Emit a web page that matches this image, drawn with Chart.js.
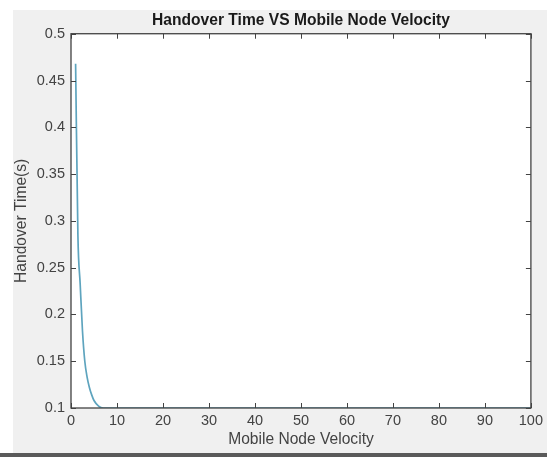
<!DOCTYPE html>
<html>
<head>
<meta charset="utf-8">
<script src="https://cdn.jsdelivr.net/npm/chart.js@4"></script>
<style>
  html, body { margin: 0; padding: 0; background: #ffffff; }
  #wrap { width: 547px; height: 457px; position: relative; }
</style>
</head>
<body>
<div id="wrap"><canvas id="handoverChart"></canvas></div>
<script>
// values
const velocity = [1, 1.5, 2, 2.5, 3, 3.5, 4, 4.5, 5, 6, 7, 8, 10, 20, 30, 40, 50, 60, 70, 80, 90, 100];
const handoverTime = [0.468, 0.285, 0.232, 0.182, 0.15, 0.133, 0.122, 0.114, 0.108, 0.102, 0.1, 0.1, 0.1, 0.1, 0.1, 0.1, 0.1, 0.1, 0.1, 0.1, 0.1, 0.1];
const xTickValues = [0, 10, 20, 30, 40, 50, 60, 70, 80, 90, 100];
const yTickValues = [0.1, 0.15, 0.2, 0.25, 0.3, 0.35, 0.4, 0.45, 0.5];

const axisColor = '#434343';
const fontFamily = '"Liberation Sans", Arial, sans-serif';

// figure background, white axes box, ticks pointing inward like matlab
const matlabFrame = {
    id: 'matlabFrame',
    beforeDraw(chart) {
        const ctx = chart.ctx;
        const a = chart.chartArea;
        ctx.save();
        ctx.fillStyle = '#ffffff';
        ctx.fillRect(0, 0, chart.width, chart.height);
        ctx.fillStyle = '#f0f0f0';
        ctx.fillRect(13, 10, chart.width - 13, 443);
        ctx.fillStyle = '#5a5a5a';
        ctx.fillRect(0, 453, chart.width, 4);
        ctx.fillStyle = '#ffffff';
        ctx.fillRect(a.left, a.top, a.right - a.left, a.bottom - a.top);
        ctx.restore();
    },
    afterDatasetsDraw(chart) {
        const ctx = chart.ctx;
        const a = chart.chartArea;
        const xs = chart.scales.x;
        const ys = chart.scales.y;
        const len = 5;
        ctx.save();
        ctx.strokeStyle = axisColor;
        ctx.lineWidth = 1;
        ctx.beginPath();
        xTickValues.forEach(function (v) {
            const px = Math.round(xs.getPixelForValue(v)) + 0.5;
            ctx.moveTo(px, a.bottom);
            ctx.lineTo(px, a.bottom - len);
            ctx.moveTo(px, a.top);
            ctx.lineTo(px, a.top + len);
        });
        yTickValues.forEach(function (v) {
            const py = Math.round(ys.getPixelForValue(v)) + 0.5;
            ctx.moveTo(a.left, py);
            ctx.lineTo(a.left + len, py);
            ctx.moveTo(a.right, py);
            ctx.lineTo(a.right - len, py);
        });
        ctx.stroke();
        ctx.lineWidth = 1.3;
        ctx.strokeRect(a.left, a.top, a.right - a.left, a.bottom - a.top);
        ctx.restore();
    }
};

const points = velocity.map(function (v, i) {
    return { x: v, y: handoverTime[i] };
});

const ctx = document.getElementById('handoverChart').getContext('2d');
const handoverChart = new Chart(ctx, {
    type: 'line',
    data: {
        datasets: [{
            data: points,
            borderColor: '#5ea4be',
            borderWidth: 1.7,
            pointRadius: 0,
            fill: false,
            cubicInterpolationMode: 'monotone'
        }]
    },
    options: {
        responsive: true,
        maintainAspectRatio: false,
        animation: false,
        layout: {
            padding: { left: 8, right: 13, top: 0, bottom: 0 }
        },
        plugins: {
            legend: { display: false },
            tooltip: { enabled: false },
            title: {
                display: true,
                fullSize: false,
                text: 'Handover Time VS Mobile Node Velocity',
                color: '#1a1a1a',
                font: { family: fontFamily, size: 15.6, weight: 'bold', lineHeight: 1.2 },
                padding: { top: 11, bottom: 4 }
            }
        },
        scales: {
            x: {
                type: 'linear',
                min: 0,
                max: 100,
                afterFit: function (scale) { scale.height = 49; },
                afterBuildTicks: function (scale) {
                    scale.ticks = xTickValues.map(function (v) { return { value: v }; });
                },
                grid: { display: false, drawTicks: false },
                border: { display: false },
                ticks: {
                    color: axisColor,
                    padding: 4,
                    maxRotation: 0,
                    font: { family: fontFamily, size: 14.5 }
                },
                title: {
                    display: true,
                    text: 'Mobile Node Velocity',
                    color: axisColor,
                    font: { family: fontFamily, size: 15.6 },
                    padding: { top: 0, bottom: 8 }
                }
            },
            y: {
                type: 'linear',
                min: 0.1,
                max: 0.5,
                afterFit: function (scale) { scale.width = 63; },
                afterBuildTicks: function (scale) {
                    scale.ticks = yTickValues.map(function (v) { return { value: v }; });
                },
                grid: { display: false, drawTicks: false },
                border: { display: false },
                ticks: {
                    color: axisColor,
                    padding: 6,
                    font: { family: fontFamily, size: 14.5 },
                    callback: function (value) { return String(Math.round(value * 100) / 100); }
                },
                title: {
                    display: true,
                    text: 'Handover Time(s)',
                    color: axisColor,
                    font: { family: fontFamily, size: 15.6 },
                    padding: { top: 4, bottom: 0 }
                }
            }
        }
    },
    plugins: [matlabFrame]
});
</script>
</body>
</html>
